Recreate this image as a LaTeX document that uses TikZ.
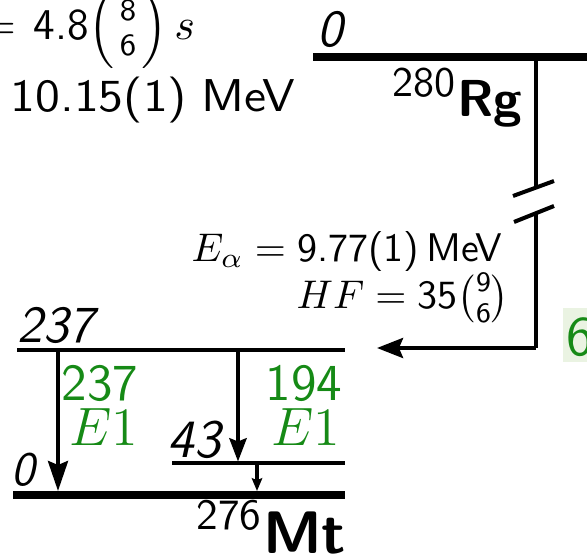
\RequirePackage{fix-cm}
\documentclass[tikz,border=0pt]{standalone}
\usepackage{amsmath}
\usetikzlibrary{arrows.meta}
\definecolor{lvgreen}{RGB}{22,138,22}
\definecolor{bggreen}{RGB}{234,243,226}
\newcommand{\fs}[1]{\fontsize{#1}{#1}\selectfont}
\begin{document}
\begin{tikzpicture}[x=0.25pt,y=-0.25pt,
  txt/.style={inner sep=0pt,font=\sffamily\fs{10}},
  hdtxt/.style={inner sep=0pt,font=\sffamily\fs{11.5}},
  lvtxt/.style={inner sep=0pt,font=\sffamily\itshape\fs{13}},
  gtxt/.style={inner sep=0pt,text=lvgreen,font=\sffamily\fs{13}},
  gmath/.style={inner sep=0pt,text=lvgreen,font=\sffamily\fs{13.5}},
  gslevel/.style={line width=2pt},
  thlevel/.style={line width=1pt},
  decay/.style={line width=1.1pt},
  bigarrow/.style={line width=1pt,-{Stealth[length=7.5pt,width=5pt,inset=1pt]}},
  midarrow/.style={line width=1pt,-{Stealth[length=5.8pt,width=4.3pt,inset=0.8pt]}},
  smallarrow/.style={line width=0.8pt,-{Stealth[length=3.2pt,width=2.6pt,inset=0.5pt]}}
]
\useasboundingbox (0,0) rectangle (587,555);

% --- header texts (partly cut off) ---
\node[hdtxt,anchor=base west,font=\sffamily\fs{11}] (thalf) at (33,40)
  {\llap{$=$\hspace{4.5pt}}$\textsf{4.8}\Bigl(\genfrac{}{}{0pt}{1}{\textsf{8}}{\textsf{6}}\Bigr)\, s$};
\node[hdtxt,anchor=base west] (qalpha) at (10,112) {\scalebox{1.1}[1]{10.15(1)\;MeV}};

% --- parent 280Rg ---
\coordinate (rgL) at (313,57.5);
\coordinate (rgR) at (587,57.5);
\draw[gslevel] (rgL) -- (rgR);
\node[lvtxt,anchor=base west] (rg0) at (317,47) {0};
\node[inner sep=0pt,anchor=base east] (rgname) at (523,117)
  {\sffamily\raisebox{5pt}{\fs{10.5}280}\hspace{0.3pt}{\bfseries\fs{13}Rg}};

% decay line with break
\coordinate (dtop) at (536,57.5);
\coordinate (dbrk1) at (536,187.6);
\coordinate (dbrk2) at (536,213.2);
\coordinate (dcorner) at (536,348);
\coordinate (dtip) at (377,348);
\draw[decay] (dtop) -- (dbrk1);
\draw[decay] (dbrk2) -- (dcorner);
\draw[line width=1pt,-{Stealth[length=6.5pt,width=5pt,inset=1pt]}] (dcorner) -- (dtip);
\coordinate (s1a) at (513,196); \coordinate (s1b) at (554,181);
\coordinate (s2a) at (514,222); \coordinate (s2b) at (554,206);
\draw[line width=1pt] (s1a) -- (s1b);
\draw[line width=1pt] (s2a) -- (s2b);

\node[txt,anchor=base east] (ealpha) at (503,262) {$E_\alpha = \textsf{9.77(1)}\,\textsf{MeV}$};
\node[txt,anchor=base east] (hf) at (510,309) {$HF = \textsf{35}\binom{\textsf{9}}{\textsf{6}}$};

% partial green label at right edge
\fill[bggreen] (563,308) rectangle (587,362);
\node[gtxt,anchor=base west,font=\sffamily\fs{14}] (g6) at (566,355) {6};

% --- daughter 276Mt ---
\coordinate (l237L) at (17,350);  \coordinate (l237R) at (345,350);
\coordinate (l43L) at (172,463);  \coordinate (l43R) at (345,463);
\coordinate (l0L) at (13,495);    \coordinate (l0R) at (345,495);
\draw[thlevel] (l237L) -- (l237R);
\draw[thlevel] (l43L) -- (l43R);
\draw[gslevel] (l0L) -- (l0R);

\node[lvtxt,anchor=base west] (t237) at (17,342) {237};
\node[lvtxt,anchor=base west,font=\sffamily\itshape\fs{13.5}] (t43) at (167,457) {43};
\node[lvtxt,anchor=base west,font=\sffamily\itshape\fs{12}] (t0) at (11,485) {0};

\coordinate (a1s) at (58,350);  \coordinate (a1e) at (58,491);
\coordinate (a2s) at (238,350); \coordinate (a2e) at (238,461.5);
\coordinate (a3s) at (257,464.5); \coordinate (a3e) at (257,491);
\draw[bigarrow] (a1s) -- (a1e);
\draw[midarrow] (a2s) -- (a2e);
\draw[smallarrow] (a3s) -- (a3e);

\node[gtxt,anchor=base east] (g237) at (139,400) {237};
\node[gmath,anchor=base east] (g237m) at (139,445) {$E1$};
\node[gtxt,anchor=base east] (g194) at (343,400) {194};
\node[gmath,anchor=base east] (g194m) at (341,445) {$E1$};

\node[inner sep=0pt,anchor=base east] (mtname) at (347,553)
  {\sffamily\raisebox{6pt}{\fs{10.8}276}\hspace{0.5pt}{\bfseries\fs{15}Mt}};
\end{tikzpicture}
\end{document}
